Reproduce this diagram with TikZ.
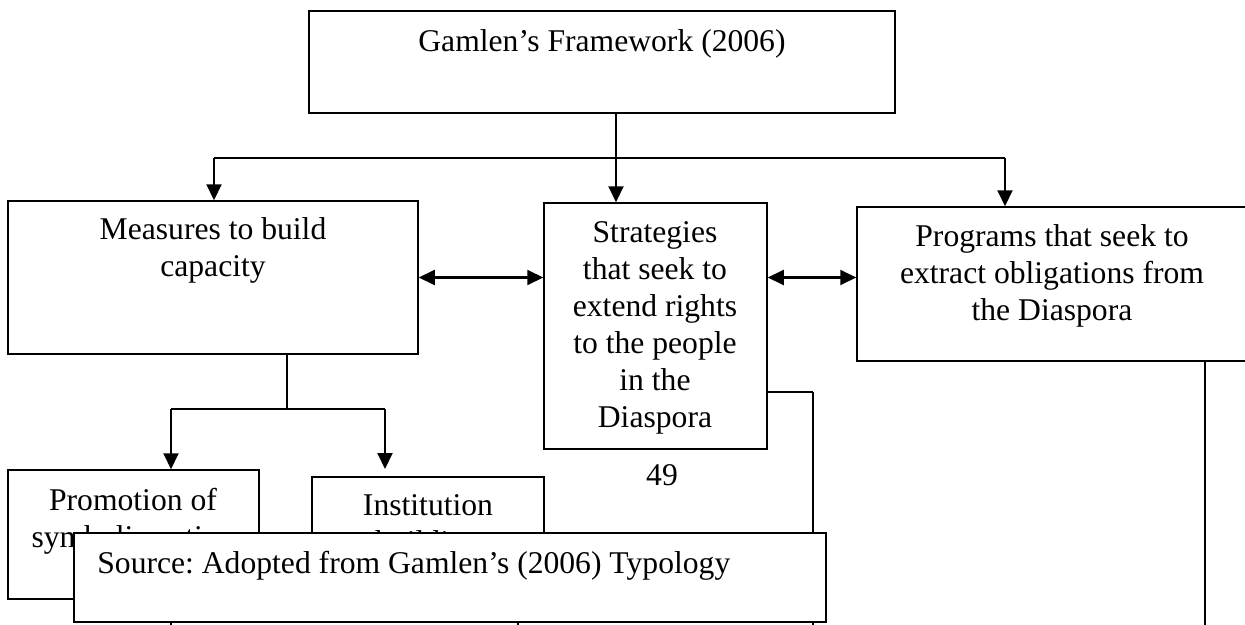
\documentclass[tikz,border=0pt]{standalone}
\usepackage{fontspec}
\setmainfont{Liberation Serif}
\usepackage{tikz}
\usetikzlibrary{arrows.meta,positioning}
\frenchspacing
\tikzstyle{box} = [rectangle, draw, line width=0.85pt, fill=white]
\tikzstyle{txt} = [font=\fontsize{18}{21}\selectfont, align=center, inner sep=0pt]
\tikzstyle{thinline} = [line width=0.6pt]
\tikzstyle{arrow} = [line width=1.15pt,-{Triangle[length=0.32cm,width=0.3cm]}]
\tikzstyle{dblarrow} = [line width=1.15pt,{Triangle[length=0.32cm,width=0.3cm]}-{Triangle[length=0.32cm,width=0.3cm]}]

\begin{document}
\begin{tikzpicture}
    \useasboundingbox (0,0) rectangle (24.9,-12.5);

    % Top
    \node[box, minimum width=11.72cm, minimum height=2.04cm] (top) at (12.04,-1.24) {};
    \node[txt] (toptxt) at (12.04,-0.88) {Gamlen’s Framework (2006)};

    % Second row
    \node[box, minimum width=8.2cm, minimum height=3.06cm] (meas) at (4.26,-5.55) {};
    \node[txt] (meastxt) at (4.26,-5.0) {Measures to build\\capacity};

    \node[box, minimum width=4.46cm, minimum height=4.92cm] (strat) at (13.11,-6.52) {};
    \node[txt] (strattxt) at (13.1,-6.56) {Strategies\\that seek to\\extend rights\\to the people\\in the\\Diaspora};

    \node[box, minimum width=7.9cm, minimum height=3.08cm] (prog) at (21.09,-5.68) {};
    \node[txt] (progtxt) at (21.04,-5.52) {Programs that seek to\\extract obligations from\\the Diaspora};

    % Third row
    \node[box, minimum width=5.02cm, minimum height=2.58cm] (promo) at (2.67,-10.69) {};
    \node[txt] (promotxt) at (2.66,-10.42) {Promotion of\\symbolic nation};

    \node[box, minimum width=4.64cm, minimum height=2.66cm] (inst) at (8.56,-10.87) {};
    \node[txt] (insttxt) at (8.56,-10.54) {Institution\\building};

    \node[txt, anchor=base] (page) at (13.24,-9.7) {49};

    % Connectors
    \coordinate (split) at (12.32,-3.16);
    \coordinate (hl) at (4.28,-3.16);
    \coordinate (hr) at (20.1,-3.16);
    \draw[thinline] (top.south -| split) -- (split);
    \draw[thinline] (hl) -- (hr);
    \draw[arrow] (split) -- (split |- strat.north);
    \draw[arrow] (hl) -- (hl |- meas.north);
    \draw[arrow] (hr) -- (hr |- prog.north);

    \draw[dblarrow] (meas.east) -- (meas.east -| strat.west);
    \draw[dblarrow] (meas.east -| strat.east) -- (meas.east -| prog.west);

    \coordinate (bm) at (5.74,-8.18);
    \coordinate (bl) at (3.42,-8.18);
    \coordinate (br) at (7.7,-8.18);
    \draw[thinline] (meas.south -| bm) -- (bm);
    \draw[thinline] (bl) -- (br);
    \draw[arrow] (bl) -- (bl |- promo.north);
    \draw[arrow] (br) -- ++(0,-1.2);

    % Source
    \node[box, minimum width=15.04cm, minimum height=1.78cm] (src) at (9.0,-11.55) {};
    \node[txt, anchor=base west] (srctxt) at (1.94,-11.46) {Source: Adopted from Gamlen’s (2006) Typology};

    \coordinate (se) at (16.26,-7.84);
    \draw[thinline] (strat.east |- se) -- (se);
    \draw[line width=1pt] (se) -- (se |- src.north);

    \coordinate (pb) at (24.1,-12.6);
    \draw[line width=1.15pt] (prog.south -| pb) -- (pb);

    \foreach \x in {3.42,10.36,16.26}
        \draw[line width=1pt] (src.south -| \x,0) -- (\x,-12.6);
\end{tikzpicture}
\end{document}
